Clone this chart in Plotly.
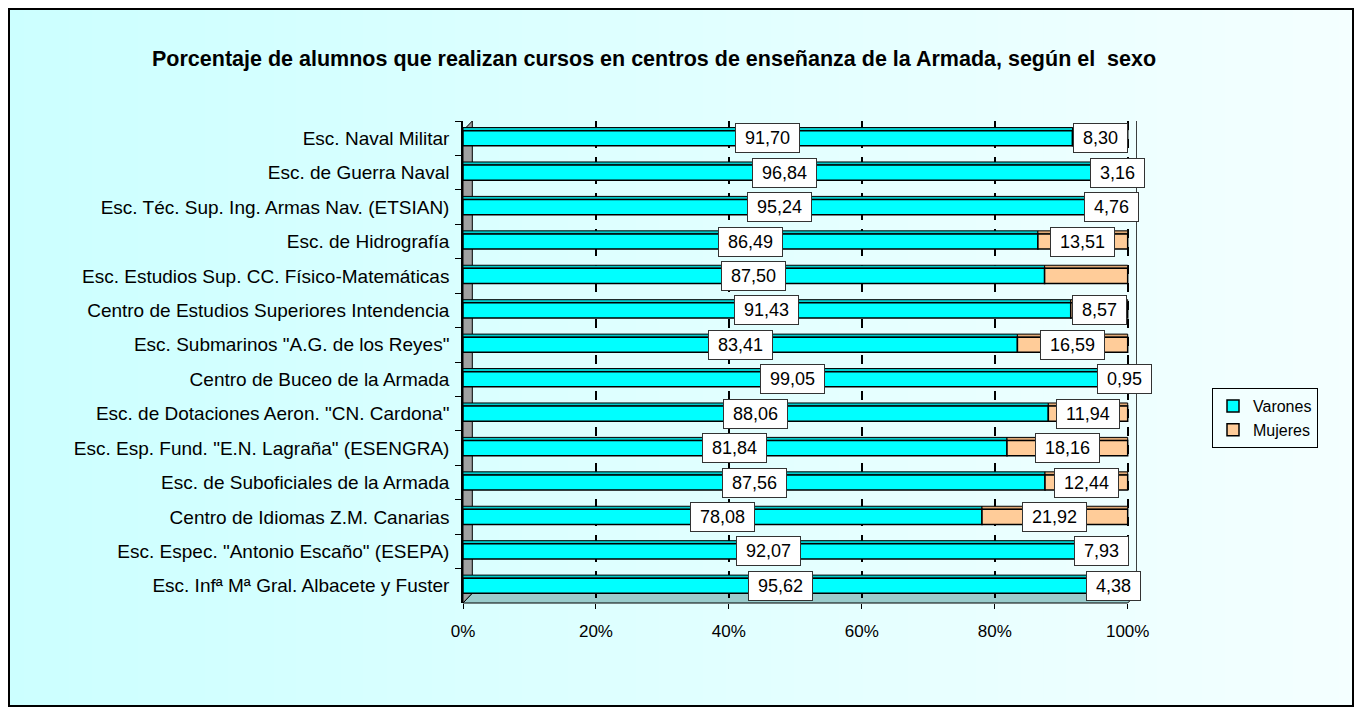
import plotly.graph_objects as go

categories = [
    "Esc. Naval Militar",
    "Esc. de Guerra Naval",
    "Esc. Téc. Sup. Ing. Armas Nav. (ETSIAN)",
    "Esc. de Hidrografía",
    "Esc. Estudios Sup. CC. Físico-Matemáticas",
    "Centro de Estudios Superiores Intendencia",
    "Esc. Submarinos \"A.G. de los Reyes\"",
    "Centro de Buceo de la Armada",
    "Esc. de Dotaciones Aeron. \"CN. Cardona\"",
    "Esc. Esp. Fund. \"E.N. Lagraña\" (ESENGRA)",
    "Esc. de Suboficiales de la Armada",
    "Centro de Idiomas Z.M. Canarias",
    "Esc. Espec. \"Antonio Escaño\" (ESEPA)",
    "Esc. Infª Mª Gral. Albacete y Fuster",
]
varones = [91.70, 96.84, 95.24, 86.49, 87.50, 91.43, 83.41, 99.05, 88.06, 81.84, 87.56, 78.08, 92.07, 95.62]
mujeres = [8.30, 3.16, 4.76, 13.51, 12.50, 8.57, 16.59, 0.95, 11.94, 18.16, 12.44, 21.92, 7.93, 4.38]
# the chart shows no label for the Mujeres segment of this category
mujeres_label_hidden = ["Esc. Estudios Sup. CC. Físico-Matemáticas"]
x_ticks = [0, 20, 40, 60, 80, 100]
x_tick_labels = ["0%", "20%", "40%", "60%", "80%", "100%"]

title = "Porcentaje de alumnos que realizan cursos en centros de enseñanza de la Armada, según el  sexo"

FONT = "Liberation Sans, Arial, sans-serif"
W, H = 1346, 699          # page body adds an 8px margin
L, T, PW, PH = 455, 113, 674, 482
XMAX = 101.4
BW = 0.44                 # bar front-face thickness (category units)
TW = 0.09                 # top face thickness

fig = go.Figure()
# top faces (3D look)
fig.add_trace(go.Bar(
    y=categories, x=varones, base=0, orientation="h", showlegend=False,
    marker=dict(color="#00CCCC", line=dict(color="black", width=1)),
    width=TW, offset=-BW / 2 - TW, hoverinfo="skip",
))
fig.add_trace(go.Bar(
    y=categories, x=mujeres, base=varones, orientation="h", showlegend=False,
    marker=dict(color="#E0AA77", line=dict(color="black", width=1)),
    width=TW, offset=-BW / 2 - TW, hoverinfo="skip",
))
# front faces
fig.add_trace(go.Bar(
    y=categories, x=varones, base=0, orientation="h", name="Varones",
    marker=dict(color="#00FFFF", line=dict(color="black", width=1.5)),
    width=BW, offset=-BW / 2, hoverinfo="x+y",
))
fig.add_trace(go.Bar(
    y=categories, x=mujeres, base=varones, orientation="h", name="Mujeres",
    marker=dict(color="#FFCC99", line=dict(color="black", width=1.5)),
    width=BW, offset=-BW / 2, hoverinfo="x+y",
))

NB = "\u00a0"

def fmt(v):
    return NB + f"{v:.2f}".replace(".", ",") + NB

annotations = []
for c, v, m in zip(categories, varones, mujeres):
    annotations.append(dict(
        x=v / 2, y=c, xref="x", yref="y", text=fmt(v), showarrow=False,
        font=dict(family=FONT, size=18, color="black"),
        bgcolor="white", bordercolor="#333333", borderwidth=1, borderpad=4,
    ))
    if c not in mujeres_label_hidden:
        annotations.append(dict(
            x=v + m / 2, y=c, xref="x", yref="y", text=fmt(m), showarrow=False,
            font=dict(family=FONT, size=18, color="black"),
            bgcolor="white", bordercolor="#333333", borderwidth=1, borderpad=4,
        ))

# decorative background gradient (paper) and frame
shapes = []
n = 60
c0 = (0xCC, 0xFF, 0xFF)
c1 = (0xF4, 0xFF, 0xFF)
xa, xb = -L / PW - 0.01, (W - L) / PW + 0.01
for i in range(n):
    t = i / (n - 1)
    col = tuple(round(a + (b - a) * t) for a, b in zip(c0, c1))
    shapes.append(dict(
        type="rect", xref="paper", yref="paper", layer="below",
        x0=xa + (xb - xa) * i / n, x1=xa + (xb - xa) * (i + 1) / n + 0.002,
        y0=-0.3, y1=1.3,
        fillcolor="rgb(%d,%d,%d)" % col, line=dict(width=0),
    ))
# left wall and floor (3D look)
shapes.append(dict(type="path", xref="x", yref="paper", layer="below",
                   path="M 0 0 L 0 0.98 L 1.4 1.0 L 1.4 0.02 Z",
                   fillcolor="#A0A0A0", line=dict(color="black", width=1)))
shapes.append(dict(type="path", xref="x", yref="paper", layer="below",
                   path="M 0 0 L 100 0 L 101.4 0.02 L 1.4 0.02 Z",
                   fillcolor="#99CCCC", line=dict(color="black", width=1)))
# right edge of back wall
shapes.append(dict(type="line", xref="x", yref="paper", x0=XMAX, x1=XMAX, y0=0.02, y1=1.0,
                   line=dict(color="black", width=1.5), layer="above"))
# outer frame
shapes.append(dict(type="rect", xref="paper", yref="paper", layer="above",
                   x0=(-L + 1) / PW, x1=(W - L - 1) / PW,
                   y0=(-(H - T - PH) + 1) / PH, y1=1 + (T - 1) / PH,
                   line=dict(color="black", width=2), fillcolor="rgba(0,0,0,0)"))

fig.update_layout(
    width=W, height=H,
    barmode="overlay",
    title=dict(text="<b>" + title + "</b>", x=0.48, xanchor="center", y=1 - 50 / H,
               yanchor="middle", xref="container", yref="container",
               font=dict(family=FONT, size=21.5, color="black")),
    margin=dict(l=L, r=W - L - PW, t=T, b=H - T - PH, pad=0, autoexpand=False),
    paper_bgcolor="#DDFFFF",
    plot_bgcolor="#E9FFFF",
    font=dict(family=FONT, size=17, color="black"),
    xaxis=dict(range=[0, XMAX], tickvals=x_ticks, ticktext=x_tick_labels,
               showgrid=True, gridcolor="black", griddash="dash", gridwidth=1.5,
               zeroline=False, showline=False, ticks="outside", ticklen=5,
               tickcolor="black", tickfont=dict(family=FONT, size=17),
               ticklabelstandoff=8, fixedrange=True),
    yaxis=dict(autorange="reversed", showline=True, linecolor="black", linewidth=1.5,
               ticks="outside", ticklen=6, tickcolor="black", tickson="boundaries",
               tickfont=dict(family=FONT, size=19), ticklabelstandoff=8,
               fixedrange=True, showgrid=False),
    legend=dict(x=(1204 - L) / PW, y=1 - (380 - T) / PH, xanchor="left", yanchor="top",
                bgcolor="#F2FFFF", bordercolor="black", borderwidth=1, traceorder="normal",
                font=dict(family=FONT, size=16), itemwidth=30, tracegroupgap=0),
    annotations=annotations,
    shapes=shapes,
    showlegend=True,
)

fig.write_html("out.html")
